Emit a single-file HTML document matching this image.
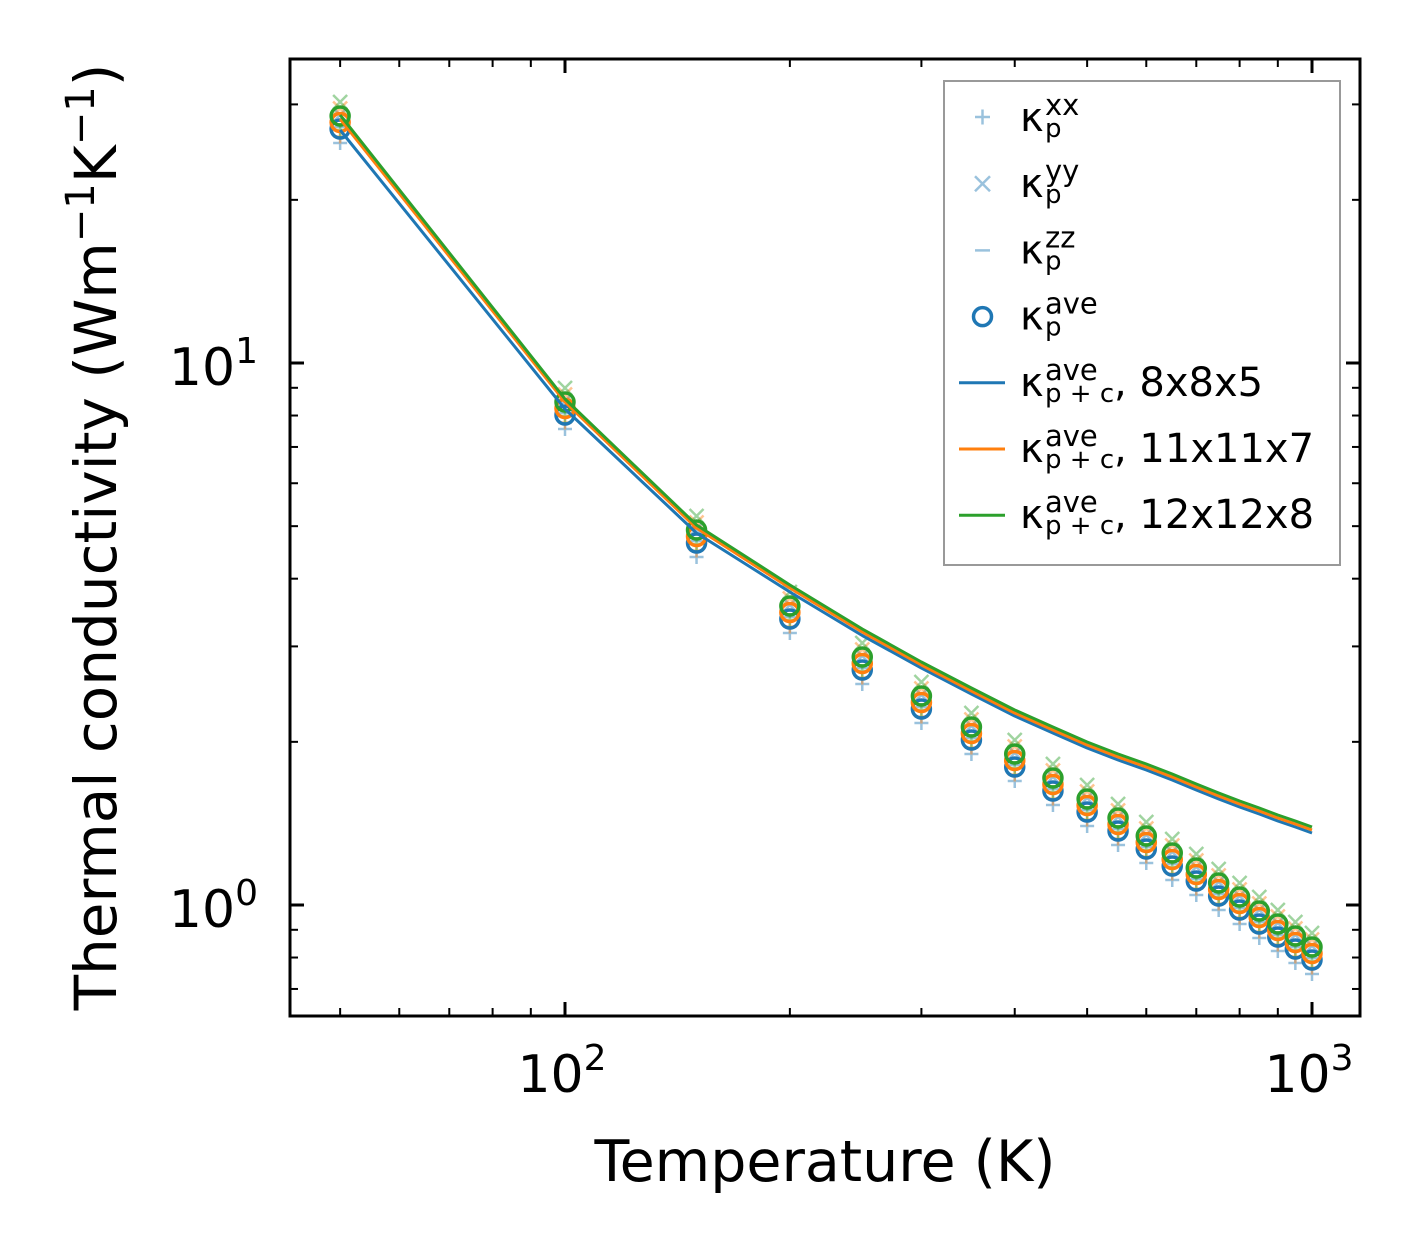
<!DOCTYPE html>
<html><head><meta charset="utf-8"><style>
body{margin:0;background:#fff}
svg{display:block;font-family:"DejaVu Sans","Liberation Sans",sans-serif}
</style></head><body>
<svg id="s" width="1421" height="1254" viewBox="0 0 1421 1254" xmlns="http://www.w3.org/2000/svg">
<rect width="1421" height="1254" fill="#fff"/>
<g id="data"></g>
<rect x="290" y="59" width="1070" height="957" fill="none" stroke="#000" stroke-width="3"/>
<g id="ticks" stroke="#000"></g>
<g font-size="52" fill="#000">
<text x="562" y="1092" text-anchor="middle">10<tspan dy="-22" font-size="36">2</tspan></text>
<text x="1309" y="1092" text-anchor="middle">10<tspan dy="-22" font-size="36">3</tspan></text>
<text x="258" y="385" text-anchor="end">10<tspan dy="-22" font-size="36">1</tspan></text>
<text x="258" y="927" text-anchor="end">10<tspan dy="-22" font-size="36">0</tspan></text>
</g>
<text x="825" y="1181" font-size="57" text-anchor="middle">Temperature (K)</text>
<text transform="translate(116,537) rotate(-90)" font-size="58" text-anchor="middle">Thermal conductivity (Wm<tspan dy="-22" font-size="40">−1</tspan><tspan dy="22">K</tspan><tspan dy="-22" font-size="40">−1</tspan><tspan dy="22">)</tspan></text>
<rect x="944" y="81" width="396" height="484" fill="#fff" fill-opacity="0.85" stroke="#999" stroke-width="2"/>
<g id="leg" font-size="40"></g>
</svg>
<script>
const ns="http://www.w3.org/2000/svg";
function el(p,t,a,txt){const e=document.createElementNS(ns,t);for(const k in a)e.setAttribute(k,a[k]);if(txt!==undefined)e.textContent=txt;p.appendChild(e);return e;}
const X=t=>565+747*(Math.log10(t)-2), Y=k=>363-542*(Math.log10(k)-1);
const tk=document.getElementById('ticks');
for(let d=1;d<=3;d++)for(let m=1;m<10;m++){const v=m*Math.pow(10,d);const x=X(v);if(x<291||x>1359)continue;const L=(m==1)?14:8;
el(tk,'line',{x1:x,y1:1016,x2:x,y2:1016-L,'stroke-width':m==1?3:2});el(tk,'line',{x1:x,y1:59,x2:x,y2:59+L,'stroke-width':m==1?3:2});}
for(let d=-1;d<=1;d++)for(let m=1;m<10;m++){const v=m*Math.pow(10,d);const y=Y(v);if(y<60||y>1015)continue;const L=(m==1)?14:8;
el(tk,'line',{x1:290,y1:y,x2:290+L,y2:y,'stroke-width':m==1?3:2});el(tk,'line',{x1:1360,y1:y,x2:1360-L,y2:y,'stroke-width':m==1?3:2});}
const T=[];for(let t=50;t<=1000;t+=50)T.push(t);
const gy=[116,402,530,606,657,696,727,754,778,799,818,836,853,868,883,897,911,924,936,947];
const ly=[115,399,525,585,629,662,688,710,727,742,754,764,774,784,793,801,808,815,821,827];
const g=document.getElementById('data');
const cols=['#1f77b4','#ff7f0e','#2ca02c'];
const offs=[13,6.5,0];
cols.forEach((c,i)=>{T.forEach((t,j)=>{const x=X(t),y=gy[j]+offs[i];
el(g,'path',{d:`M${x-7} ${y+14}h14M${x} ${y+7}v14`,stroke:c,'stroke-opacity':0.45,'stroke-width':2.5,fill:'none'});
el(g,'path',{d:`M${x-7} ${y-21}l14 14M${x+7} ${y-21}l-14 14`,stroke:c,'stroke-opacity':0.45,'stroke-width':2.5,fill:'none'});
el(g,'path',{d:`M${x-6} ${y-2}h12`,stroke:c,'stroke-opacity':0.45,'stroke-width':2.5});});});
cols.forEach((c,i)=>{T.forEach((t,j)=>{el(g,'circle',{cx:X(t),cy:gy[j]+offs[i],r:9,fill:'none',stroke:c,'stroke-width':3.5});});});
const boff=[15,10,8,7,6.5,6,6,6,6,6,6,6,6,6,6,6,6,6,6,6];
const ooff=[4,3,3,3,3,3,3,3,3,3,3,3,3,3,3,3,3,3,3,3];
const offsL=[boff,ooff,ooff.map(()=>0)];
cols.forEach((c,i)=>{let d='';T.forEach((t,j)=>{d+=(j?'L':'M')+X(t).toFixed(1)+' '+(ly[j]+offsL[i][j]).toFixed(1);});
el(g,'path',{d:d,stroke:c,'stroke-width':3,fill:'none','stroke-linejoin':'round'});});
const lg=document.getElementById('leg');
const rows=[['xx','p',''],['yy','p',''],['zz','p',''],['ave','p',''],['ave','p + c',', 8x8x5'],['ave','p + c',', 11x11x7'],['ave','p + c',', 12x12x8']];
rows.forEach((r,i)=>{const cy=117+66.2*i;
if(i==0)el(lg,'path',{d:`M975 ${cy}h15M982.5 ${cy-7.5}v15`,stroke:'#1f77b4','stroke-opacity':0.45,'stroke-width':2.5});
if(i==1)el(lg,'path',{d:`M975 ${cy-7}l15 15M990 ${cy-7}l-15 15`,stroke:'#1f77b4','stroke-opacity':0.45,'stroke-width':2.5});
if(i==2)el(lg,'path',{d:`M975 ${cy+1}h15`,stroke:'#1f77b4','stroke-opacity':0.45,'stroke-width':2.5});
if(i==3)el(lg,'circle',{cx:982.5,cy:cy+1,r:9,fill:'none',stroke:'#1f77b4','stroke-width':3.5});
if(i>=4)el(lg,'path',{d:`M959 ${cy+1}h46`,stroke:cols[i-4],'stroke-width':3});
const t=el(lg,'text',{x:1020,y:cy+14});
t.appendChild(document.createTextNode('κ'));
el(t,'tspan',{x:1045,y:cy-2,'font-size':29},r[0]);
el(t,'tspan',{x:1045,y:cy+20,'font-size':26},r[1]);
if(r[2])el(t,'tspan',{x:1114,y:cy+14},r[2]);
});
</script>
</body></html>
